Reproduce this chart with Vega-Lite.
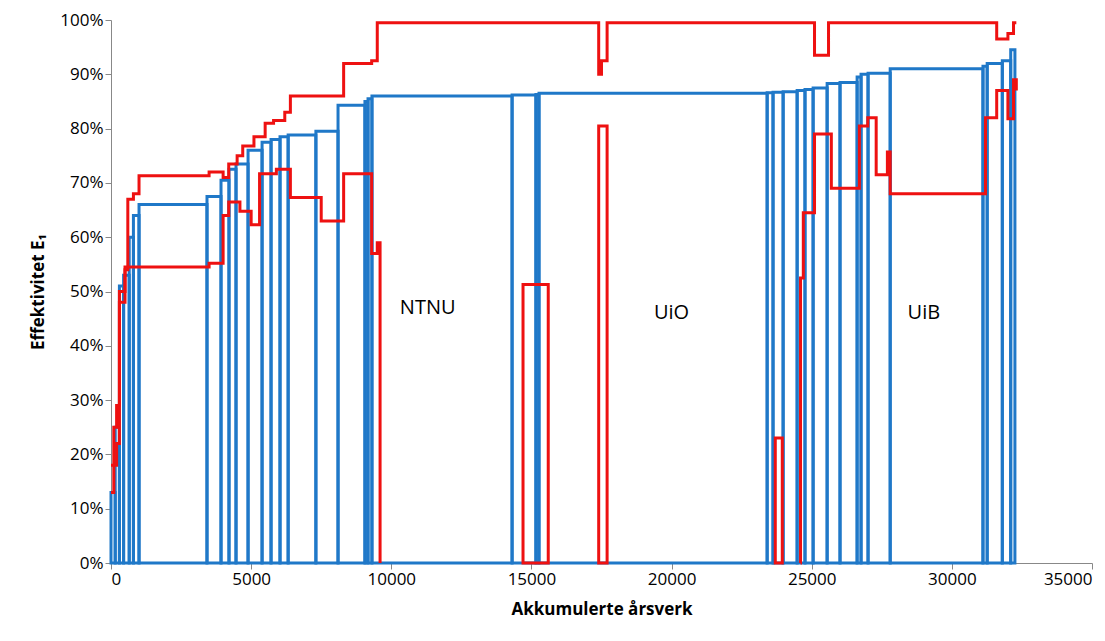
{
"$schema": "https://vega.github.io/schema/vega-lite/v6.json",
"width": 981, "height": 543,
"autosize": {"type": "none"},
"padding": {"left": 111, "top": 20, "right": 13, "bottom": 78},
"background": "white",
"config": {"font": "Open Sans", "view": {"stroke": null},
  "axis": {"grid": false, "domainColor": "#888", "tickColor": "#888", "labelFontSize": 17, "labelColor": "black", "titleFontSize": 17, "titleColor": "black", "titleFontWeight": "bold", "tickSize": 6}},
"datasets": {
 "blue": [
  {"x0":0,"x1":150,"e":0.13},{"x0":150,"x1":300,"e":0.25},{"x0":300,"x1":450,"e":0.51},{"x0":450,"x1":650,"e":0.53},
  {"x0":650,"x1":800,"e":0.60},{"x0":800,"x1":1000,"e":0.64},{"x0":1000,"x1":3425,"e":0.66},{"x0":3425,"x1":3925,"e":0.675},
  {"x0":3925,"x1":4210,"e":0.705},{"x0":4210,"x1":4460,"e":0.725},{"x0":4460,"x1":4890,"e":0.735},{"x0":4890,"x1":5390,"e":0.76},
  {"x0":5390,"x1":5710,"e":0.775},{"x0":5710,"x1":6030,"e":0.78},{"x0":6030,"x1":6320,"e":0.785},{"x0":6320,"x1":7310,"e":0.788},
  {"x0":7310,"x1":8100,"e":0.795},{"x0":8100,"x1":9060,"e":0.843},{"x0":9060,"x1":9170,"e":0.85},{"x0":9170,"x1":9310,"e":0.855},
  {"x0":9310,"x1":14310,"e":0.86},{"x0":14310,"x1":15160,"e":0.862},{"x0":15160,"x1":15270,"e":0.863},{"x0":15270,"x1":23410,"e":0.865},
  {"x0":23410,"x1":23620,"e":0.866},{"x0":23620,"x1":23980,"e":0.867},{"x0":23980,"x1":24480,"e":0.868},{"x0":24480,"x1":24760,"e":0.87},
  {"x0":24760,"x1":25050,"e":0.872},{"x0":25050,"x1":25550,"e":0.875},{"x0":25550,"x1":26010,"e":0.883},{"x0":26010,"x1":26620,"e":0.885},
  {"x0":26620,"x1":26760,"e":0.895},{"x0":26760,"x1":27010,"e":0.90},{"x0":27010,"x1":27800,"e":0.902},{"x0":27800,"x1":31110,"e":0.91},
  {"x0":31110,"x1":31260,"e":0.915},{"x0":31260,"x1":31800,"e":0.92},{"x0":31800,"x1":32100,"e":0.925},{"x0":32100,"x1":32250,"e":0.945}
 ],
 "redbox": [
  {"x0":14700,"x1":15600,"e":0.513},{"x0":17400,"x1":17700,"e":0.805},{"x0":23700,"x1":23950,"e":0.23}
 ],
 "redline": [
  {"s":"a","x":0,"e":0.13},{"s":"a","x":100,"e":0.25},{"s":"a","x":200,"e":0.29},{"s":"a","x":300,"e":0.48},{"s":"a","x":500,"e":0.54},
  {"s":"a","x":600,"e":0.67},{"s":"a","x":800,"e":0.68},{"s":"a","x":1000,"e":0.713},{"s":"a","x":3500,"e":0.72},{"s":"a","x":4000,"e":0.71},
  {"s":"a","x":4200,"e":0.735},{"s":"a","x":4500,"e":0.75},{"s":"a","x":4700,"e":0.768},{"s":"a","x":5100,"e":0.785},{"s":"a","x":5500,"e":0.81},
  {"s":"a","x":5800,"e":0.815},{"s":"a","x":6200,"e":0.83},{"s":"a","x":6400,"e":0.86},{"s":"a","x":8300,"e":0.92},{"s":"a","x":9300,"e":0.925},
  {"s":"a","x":9500,"e":0.995},{"s":"a","x":17400,"e":0.90},{"s":"a","x":17500,"e":0.925},{"s":"a","x":17700,"e":0.995},{"s":"a","x":25100,"e":0.935},
  {"s":"a","x":25600,"e":0.995},{"s":"a","x":31600,"e":0.965},{"s":"a","x":32000,"e":0.975},{"s":"a","x":32200,"e":0.995},{"s":"a","x":32300,"e":0.995},
  {"s":"b","x":0,"e":0.18},{"s":"b","x":200,"e":0.22},{"s":"b","x":300,"e":0.50},{"s":"b","x":500,"e":0.545},{"s":"b","x":3500,"e":0.552},
  {"s":"b","x":4000,"e":0.64},{"s":"b","x":4200,"e":0.665},{"s":"b","x":4600,"e":0.648},{"s":"b","x":5000,"e":0.623},{"s":"b","x":5300,"e":0.717},
  {"s":"b","x":5900,"e":0.725},{"s":"b","x":6400,"e":0.673},{"s":"b","x":7500,"e":0.63},{"s":"b","x":8300,"e":0.717},{"s":"b","x":9300,"e":0.57},
  {"s":"b","x":9500,"e":0.59},{"s":"b","x":9600,"e":0},
  {"s":"c","x":24600,"e":0},{"s":"c","x":24601,"e":0.525},{"s":"c","x":24700,"e":0.645},{"s":"c","x":25100,"e":0.79},{"s":"c","x":25700,"e":0.69},
  {"s":"c","x":26700,"e":0.805},{"s":"c","x":27000,"e":0.82},{"s":"c","x":27300,"e":0.715},{"s":"c","x":27700,"e":0.757},{"s":"c","x":27800,"e":0.68},
  {"s":"c","x":31200,"e":0.82},{"s":"c","x":31600,"e":0.87},{"s":"c","x":32000,"e":0.818},{"s":"c","x":32200,"e":0.89},{"s":"c","x":32300,"e":0.87}
 ],
 "labels": [
  {"x":11300,"e":0.47,"t":"NTNU"},{"x":20000,"e":0.46,"t":"UiO"},{"x":29000,"e":0.46,"t":"UiB"}
 ]
},
"layer": [
 {"data": {"name": "blue"}, "mark": {"type": "rect", "fill": "transparent", "stroke": "#1f78c8", "strokeWidth": 3},
  "encoding": {
   "x": {"field": "x0", "type": "quantitative", "scale": {"domain": [0, 35000], "nice": false}, "axis": {"values": [0,5000,10000,15000,20000,25000,30000,35000], "format": "d", "title": "Akkumulerte årsverk", "labelFlush": true, "titlePadding": 14}},
   "x2": {"field": "x1"},
   "y": {"field": "e", "type": "quantitative", "scale": {"domain": [0, 1], "nice": false}, "axis": {"format": ".0%", "tickCount": 10, "title": "Effektivitet E₁", "titlePadding": 12}},
   "y2": {"datum": 0}}},
 {"data": {"name": "redbox"}, "mark": {"type": "rect", "fill": "transparent", "stroke": "#ee1111", "strokeWidth": 3},
  "encoding": {"x": {"field": "x0", "type": "quantitative"}, "x2": {"field": "x1"}, "y": {"field": "e", "type": "quantitative"}, "y2": {"datum": 0}}},
 {"data": {"name": "redline"}, "mark": {"type": "line", "interpolate": "step-after", "color": "#ee1111", "strokeWidth": 3},
  "encoding": {"x": {"field": "x", "type": "quantitative"}, "y": {"field": "e", "type": "quantitative"}, "detail": {"field": "s"}}},
 {"data": {"name": "labels"}, "mark": {"type": "text", "fontSize": 20, "align": "center"},
  "encoding": {"x": {"field": "x", "type": "quantitative"}, "y": {"field": "e", "type": "quantitative"}, "text": {"field": "t"}}}
]
}
